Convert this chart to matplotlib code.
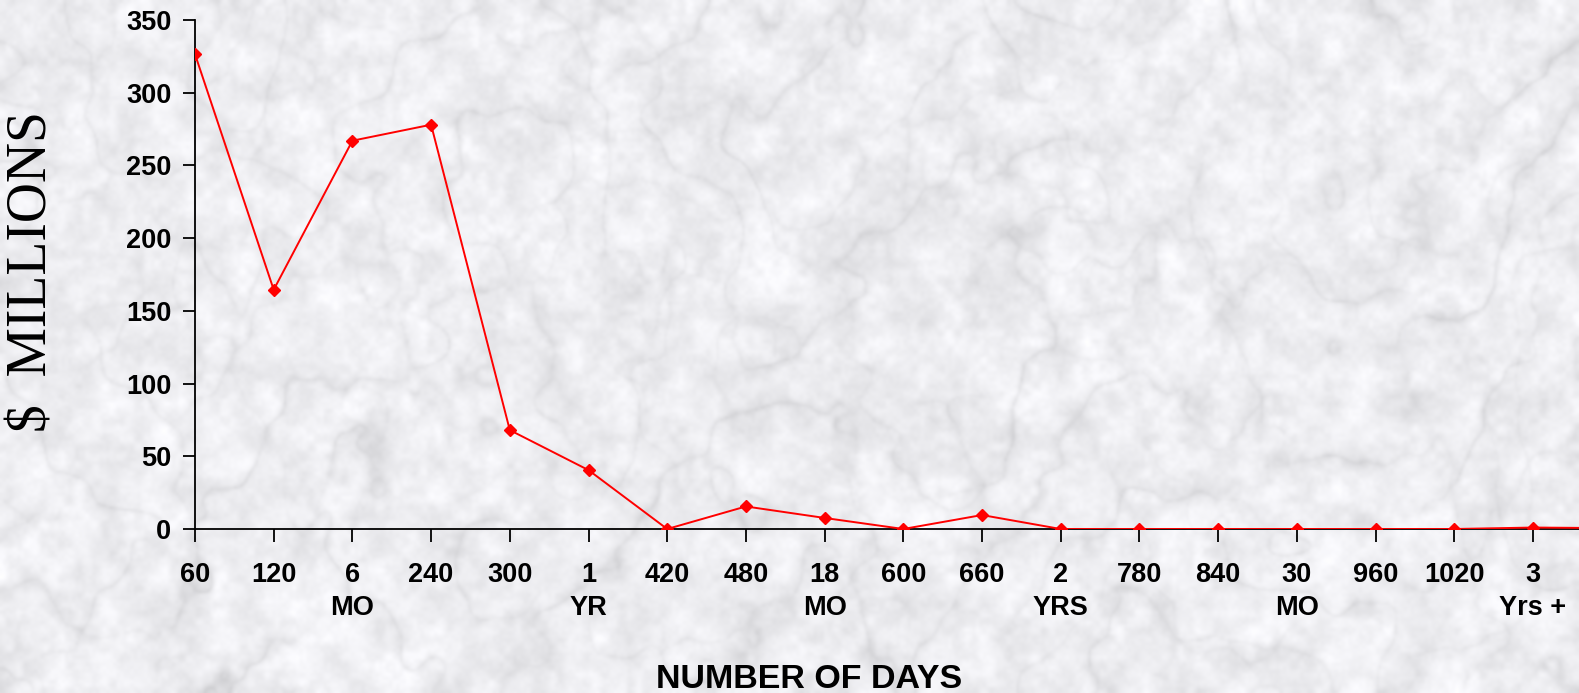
import numpy as np
import matplotlib
matplotlib.use('Agg')
import matplotlib.pyplot as plt

# data ($ millions by age bucket)
categories = ['60', '120', '6\nMO', '240', '300', '1\nYR', '420', '480', '18\nMO',
              '600', '660', '2\nYRS', '780', '840', '30\nMO', '960', '1020', '3\nYrs +', '']
values = [326.5, 164.5, 267, 278, 68, 40.5, 0, 15.5, 7.6,
          0, 9.6, 0, 0, 0, 0, 0, 0, 1.0, 0.6]
yticks = [0, 50, 100, 150, 200, 250, 300, 350]

W, H = 1579, 693
fig = plt.figure(figsize=(W / 100, H / 100), dpi=100)

# marble-ish background (decoration only)
rng = np.random.default_rng(3)
def smooth_noise(n, h, w):
    small = rng.random((n, int(n * w / h) + 2))
    ys = np.linspace(0, small.shape[0] - 1.001, h)
    xs = np.linspace(0, small.shape[1] - 1.001, w)
    y0 = ys.astype(int); x0 = xs.astype(int)
    fy = (ys - y0)[:, None]; fx = (xs - x0)[None, :]
    fy = fy * fy * (3 - 2 * fy); fx = fx * fx * (3 - 2 * fx)
    a = small[y0][:, x0]; b = small[y0][:, x0 + 1]
    c = small[y0 + 1][:, x0]; d = small[y0 + 1][:, x0 + 1]
    return (a * (1 - fx) + b * fx) * (1 - fy) + (c * (1 - fx) + d * fx) * fy

h, w = H // 2, W // 2
fbm = sum(smooth_noise(n, h, w) / k for n, k in [(4, 1), (9, 2), (20, 4), (40, 8)])
fbm2 = sum(smooth_noise(n, h, w) / k for n, k in [(5, 1), (11, 2), (25, 4)])
yy, xx = np.mgrid[0:h, 0:w]
veins = np.abs(np.sin((xx * 0.025 + yy * 0.04) + fbm * 6.0))
veins2 = np.abs(np.sin((xx * 0.04 - yy * 0.02) + fbm2 * 7.0))
mask = smooth_noise(6, h, w)
tex = (0.94 - 0.10 * np.exp(-veins / 0.22) * mask
       - 0.07 * np.exp(-veins2 / 0.18) * (1 - mask))
tex += 0.07 * (smooth_noise(25, h, w) - 0.5) + 0.05 * (smooth_noise(80, h, w) - 0.5)
tex += 0.025 * (smooth_noise(200, h, w) - 0.5)
tex = np.clip(tex, 0, 1)
rgb = np.dstack([tex, tex, tex * 1.01 + 0.004]).clip(0, 1)
bg = fig.add_axes([0, 0, 1, 1])
bg.imshow(rgb, aspect='auto', extent=[0, 1, 0, 1], interpolation='bicubic')
bg.axis('off')

left = 195 / W
bottom = 1 - 529 / H
top = 1 - 20 / H
ax = fig.add_axes([left, bottom, 1 - left, top - bottom])
ax.patch.set_alpha(0)

x = np.arange(len(values))
ax.plot(x, values, color='#ff0000', linewidth=1.4, marker='D', markersize=6.5,
        markeredgecolor='#ff0000', clip_on=True, zorder=3)

ax.set_xlim(0, (W - 195) / 78.7)
ax.set_ylim(0, 350)
ax.set_xticks(x[:-1])
ax.set_xticklabels(categories[:-1], fontfamily='Liberation Sans', fontweight='bold',
                   fontsize=19.5, linespacing=1.35)
ax.set_yticks(yticks)
ax.set_yticklabels([str(v) for v in yticks], fontfamily='Liberation Sans',
                   fontweight='bold', fontsize=19.5)
ax.tick_params(axis='x', direction='out', length=9, width=1.3, pad=15)
ax.tick_params(axis='y', direction='out', length=9, width=1.3, pad=8)
for s in ['top', 'right']:
    ax.spines[s].set_visible(False)
for s in ['left', 'bottom']:
    ax.spines[s].set_linewidth(1.3)

fig.text(33 / W, 1 - 272 / H, '$  MILLIONS', rotation=90, ha='center', va='center',
         fontfamily='Liberation Serif', fontsize=40)
fig.text(809 / W, 1 - 680 / H, 'NUMBER OF DAYS', ha='center', va='center',
         fontfamily='Liberation Sans', fontweight='bold', fontsize=24.5)

fig.savefig('out.png', dpi=100)
